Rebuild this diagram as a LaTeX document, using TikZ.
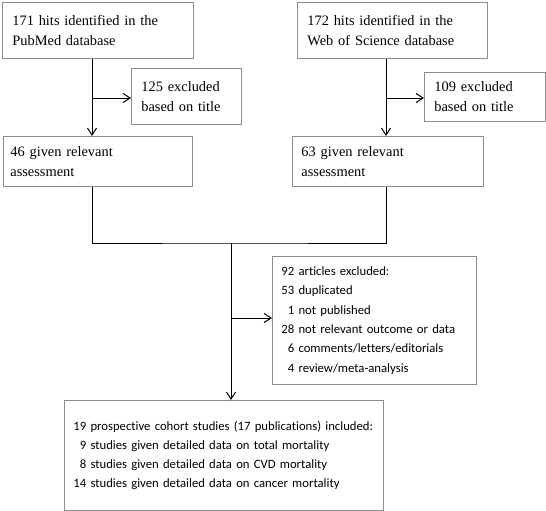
\documentclass[tikz,border=0pt]{standalone}
\usepackage{fontspec}
\setmainfont{Liberation Serif}
\newfontfamily\calibri[Ligatures=NoCommon]{Carlito}
\usetikzlibrary{arrows.meta}
\definecolor{rim}{HTML}{8C8C8C}

\begin{document}
\begin{tikzpicture}[x=1pt,y=-1pt,>={Straight Barb[length=7pt,width=9pt]},
 box/.style={draw=rim,line width=0.8pt,anchor=north west,align=left,
 inner xsep=10pt,inner ysep=0pt,font=\fontsize{14.4}{20}\selectfont},
 sbox/.style={box,inner xsep=9pt,font=\calibri\fontsize{12.7}{19.3}\selectfont},
 link/.style={line width=1pt}]
\useasboundingbox (0,0) rectangle (546,511);
\node[box,text width=171pt,minimum height=56pt] (pubmed) at (2,2)
 {171 hits identified in the\\PubMed database};
\node[box,text width=90pt,minimum height=56pt] (skip1) at (131,68)
 {125 excluded\\based on title};
\node[box,inner xsep=7pt,text width=175pt,minimum height=50pt] (given46) at (3,136)
 {46 given relevant\\assessment};
\node[box,text width=170pt,minimum height=56pt] (wos) at (297,2)
 {172 hits identified in the\\Web of Science database};
\node[box,text width=101pt,minimum height=49pt] (skip2) at (424,72)
 {109 excluded\\based on title};
\node[box,inner xsep=9pt,text width=173pt,minimum height=50pt] (given63) at (292,136)
 {63 given relevant\\assessment};
\node[sbox,text width=186pt,minimum height=128pt] (skip92) at (272,256)
 {92 articles excluded:\\53 duplicated\\\phantom{0}1 not published\\
 28 not relevant outcome or data\\\phantom{0}6 comments/letters/editorials\\
 \phantom{0}4 review/meta-analysis};
\node[sbox,inner xsep=7pt,text width=305pt,minimum height=110pt] (final) at (64,400)
 {\hspace*{2pt}19 prospective cohort studies (17 publications) included:\\
 \hspace*{2pt}\phantom{0}9 studies given detailed data on total mortality\\
 \hspace*{2pt}\phantom{0}8 studies given detailed data on CVD mortality\\
 \hspace*{2pt}14 studies given detailed data on cancer mortality};
\coordinate (pmcut) at (92,98);
\coordinate (woscut) at (386,98);
\coordinate (join) at (231,243);
\coordinate (dupcut) at (231,318);
\draw[link,->] (pubmed.south -| pmcut) -- (given46.north -| pmcut);
\draw[link,->] (pmcut) -- (skip1.west |- pmcut);
\draw[link,->] (wos.south -| woscut) -- (given63.north -| woscut);
\draw[link,->] (woscut) -- (skip2.west |- woscut);
\draw[link] (given46.south -| pmcut) |- (join) -| (given63.south -| woscut);
\draw[link,->] (join) -- (final.north -| join);
\draw[link,->] (dupcut) -- (skip92.west |- dupcut);
\end{tikzpicture}
\end{document}
